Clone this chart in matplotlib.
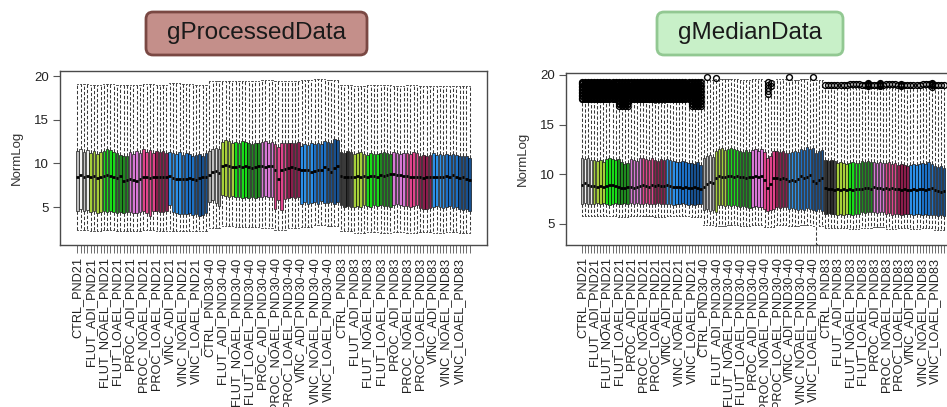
import numpy as np
import matplotlib
matplotlib.use("Agg")
import matplotlib.pyplot as plt
from matplotlib.patches import FancyBboxPatch

plt.rcParams["font.family"] = ["Liberation Sans", "DejaVu Sans"]

# ── sample layout ─────────────────────────────────────────────────────────────
TREATMENTS = ["CTRL", "FLUT_ADI", "FLUT_NOAEL", "FLUT_LOAEL", "PROC_ADI",
              "PROC_NOAEL", "PROC_LOAEL", "VINC_ADI", "VINC_NOAEL", "VINC_LOAEL"]
TIMEPOINTS = ["PND21", "PND30-40", "PND83"]
N_REP = 4
GROUP_LABELS = [f"{t}_{p}" for p in TIMEPOINTS for t in TREATMENTS]

# ── gProcessedData (per sample: q1 / median / q3, per group: whiskers) ────────
proc_q3 = [
    11.4, 11.6, 11.3, 11.5, 11.2, 11.4, 11.1, 11.3, 11.4, 11.6, 11.5, 11.3,
    11.2, 11.0, 10.8, 10.9, 11.3, 11.1, 11.4, 11.2, 11.6, 11.3, 11.5, 11.2,
    11.4, 11.3, 11.4, 11.2, 11.3, 11.2, 11.1, 11.3, 11.0, 11.2, 11.1, 10.9,
    11.0, 11.1, 10.9, 11.2,
    11.4, 11.7, 11.8, 11.6, 12.5, 12.7, 12.6, 12.4, 12.5, 12.4, 12.6, 12.5,
    12.3, 12.2, 12.4, 12.3, 12.5, 12.6, 12.4, 12.5, 12.2, 11.9, 12.3, 12.3,
    12.4, 12.4, 12.3, 12.5, 12.0, 12.2, 12.1, 12.3, 12.2, 12.4, 12.2, 12.6,
    12.5, 12.3, 12.8, 12.7,
    11.3, 11.2, 11.4, 11.3, 11.1, 11.2, 11.3, 11.1, 11.0, 11.2, 11.1, 11.1,
    11.2, 11.3, 11.2, 11.1, 11.3, 11.2, 11.1, 11.2, 11.2, 11.1, 11.3, 11.2,
    10.9, 11.0, 10.9, 11.0, 11.2, 11.0, 11.1, 11.0, 11.1, 11.0, 11.1, 11.0,
    10.9, 10.8, 10.8, 10.6]
proc_q1 = [
    4.5, 4.8, 4.6, 4.7, 4.4, 4.5, 4.3, 4.4, 4.5, 4.4, 4.5, 4.4,
    4.3, 4.4, 4.3, 4.4, 4.4, 4.3, 4.3, 4.4, 4.6, 4.3, 4.0, 4.5,
    4.5, 4.4, 4.4, 4.5, 5.2, 4.4, 4.3, 4.2, 4.2, 4.2, 4.3, 4.1,
    4.2, 4.0, 4.1, 4.3,
    5.6, 5.8, 5.5, 5.1, 6.4, 6.3, 6.2, 6.3, 6.1, 6.2, 6.0, 6.2,
    6.0, 6.1, 6.0, 6.2, 6.2, 6.3, 6.1, 6.2, 4.8, 5.8, 4.7, 5.9,
    6.0, 6.1, 6.0, 6.1, 5.3, 5.6, 5.4, 5.5, 5.6, 5.4, 5.7, 5.5,
    5.5, 5.6, 5.3, 5.6,
    5.2, 5.0, 5.1, 5.0, 5.0, 5.1, 5.0, 5.2, 5.1, 5.0, 5.2, 5.1,
    5.2, 5.1, 5.1, 5.0, 5.2, 5.3, 5.2, 5.1, 5.1, 5.0, 5.1, 5.2,
    4.9, 4.8, 4.8, 4.9, 5.0, 5.1, 5.0, 4.9, 5.0, 5.1, 4.9, 5.0,
    4.8, 4.7, 4.8, 4.6]
proc_med = [
    8.4, 8.7, 8.5, 8.6, 8.4, 8.6, 8.3, 8.5, 8.6, 8.7, 8.6, 8.5,
    8.3, 8.6, 8.0, 8.1, 8.2, 8.1, 8.0, 8.2, 8.4, 8.5, 8.3, 8.5,
    8.5, 8.4, 8.5, 8.4, 8.6, 8.3, 8.2, 8.2, 8.2, 8.2, 8.3, 8.2,
    8.1, 8.3, 8.5, 8.4,
    8.7, 9.0, 9.1, 8.9, 9.7, 9.8, 9.7, 9.6, 9.6, 9.7, 9.6, 9.7,
    9.6, 9.5, 9.6, 9.7, 9.7, 9.6, 9.7, 9.7, 9.2, 8.2, 9.3, 9.4,
    9.5, 9.6, 9.5, 9.4, 9.3, 9.2, 9.3, 9.0, 9.1, 9.3, 9.2, 9.6,
    9.4, 9.0, 9.5, 9.7,
    8.6, 8.5, 8.4, 8.5, 8.5, 8.6, 8.5, 8.6, 8.5, 8.6, 8.6, 8.5,
    8.7, 8.6, 8.7, 8.8, 8.8, 8.7, 8.7, 8.6, 8.6, 8.5, 8.5, 8.4,
    8.4, 8.3, 8.4, 8.4, 8.4, 8.5, 8.4, 8.5, 8.6, 8.5, 8.7, 8.4,
    8.3, 8.5, 8.2, 8.1]
proc_whishi = [19.1, 19.0, 19.1, 19.0, 19.0, 19.1, 19.0, 19.2, 19.1, 19.0,
               19.4, 19.5, 19.5, 19.5, 19.6, 19.5, 19.5, 19.6, 19.7, 19.6,
               19.0, 18.9, 19.0, 19.0, 18.9, 19.0, 18.9, 18.9, 18.9, 18.9]
proc_whislo = [2.4, 2.3, 2.4, 2.2, 2.3, 2.4, 2.3, 2.2, 2.3, 2.3,
               2.6, 2.8, 2.7, 2.7, 2.6, 2.4, 2.6, 2.7, 2.9, 2.8,
               2.2, 2.0, 2.1, 2.0, 2.1, 2.0, 2.1, 2.0, 2.1, 2.0]

# ── gMedianData ───────────────────────────────────────────────────────────────
med_q3 = [
    11.6, 11.5, 11.6, 11.4, 11.4, 11.3, 11.4, 11.2, 11.5, 11.6, 11.5, 11.4,
    11.5, 11.2, 11.0, 11.1, 11.5, 11.4, 11.3, 11.6, 11.6, 11.5, 11.4, 11.6,
    11.4, 11.3, 11.5, 11.4, 11.5, 11.4, 11.3, 11.2, 11.2, 11.3, 11.2, 11.1,
    11.1, 11.0, 11.2, 10.9,
    11.6, 11.8, 11.9, 11.7, 12.3, 12.5, 12.6, 12.4, 12.5, 12.6, 12.5, 12.4,
    12.3, 12.2, 12.4, 12.2, 12.4, 12.5, 12.3, 12.5, 12.2, 11.6, 11.8, 12.3,
    12.3, 12.2, 12.3, 12.1, 12.1, 12.2, 12.3, 12.2, 12.5, 12.4, 12.7, 12.5,
    12.6, 12.1, 12.3, 12.4,
    11.4, 11.3, 11.4, 11.3, 11.1, 11.2, 11.1, 11.0, 11.1, 11.2, 11.1, 11.1,
    11.3, 11.2, 11.3, 11.2, 11.2, 11.1, 11.2, 11.1, 11.1, 11.2, 11.0, 11.1,
    10.9, 11.0, 10.9, 10.8, 10.9, 11.0, 10.9, 11.0, 11.1, 11.0, 11.2, 11.0,
    10.8, 10.7, 10.8, 10.6]
med_q1 = [
    7.0, 7.1, 7.0, 7.0, 7.0, 7.1, 7.0, 7.1, 7.0, 6.9, 7.0, 7.1,
    7.0, 7.0, 7.1, 7.0, 7.1, 7.0, 7.1, 7.0, 7.0, 7.1, 7.0, 7.0,
    7.0, 7.1, 7.0, 7.0, 7.0, 7.0, 6.9, 7.0, 7.0, 7.1, 7.0, 6.9,
    7.0, 6.9, 7.0, 7.0,
    6.4, 6.5, 6.3, 6.4, 6.2, 6.9, 6.9, 6.8, 6.9, 6.8, 6.9, 6.8,
    6.7, 6.8, 6.7, 6.6, 6.7, 6.8, 6.7, 6.7, 6.5, 6.3, 6.4, 6.5,
    6.7, 6.6, 6.7, 6.7, 6.5, 6.6, 6.5, 6.4, 6.5, 6.4, 6.6, 6.5,
    6.4, 6.3, 6.5, 6.3,
    6.0, 6.1, 6.0, 6.0, 5.9, 6.0, 5.9, 6.0, 6.0, 5.9, 6.0, 6.0,
    6.2, 6.1, 6.2, 6.2, 6.2, 6.1, 6.2, 6.2, 6.0, 6.1, 5.9, 6.0,
    6.0, 5.9, 6.0, 6.0, 6.0, 5.9, 6.0, 6.0, 5.9, 6.0, 5.9, 5.9,
    5.9, 5.8, 5.9, 5.8]
med_med = [
    8.9, 9.1, 8.9, 8.8, 8.8, 8.7, 8.8, 8.7, 8.8, 8.9, 8.9, 8.8,
    8.7, 8.6, 8.6, 8.7, 8.7, 8.6, 8.7, 8.8, 8.9, 8.8, 8.7, 8.9,
    8.8, 8.9, 8.8, 8.8, 8.9, 8.8, 8.7, 8.7, 8.7, 8.6, 8.7, 8.6,
    8.6, 8.7, 8.6, 8.5,
    8.7, 9.0, 9.2, 9.1, 9.6, 9.8, 9.7, 9.7, 9.8, 9.8, 9.7, 9.8,
    9.7, 9.7, 9.6, 9.7, 9.7, 9.8, 9.7, 9.8, 9.4, 8.6, 9.0, 9.6,
    9.6, 9.5, 9.6, 9.5, 9.3, 9.4, 9.3, 9.5, 9.8, 9.6, 9.7, 9.9,
    9.3, 9.1, 9.4, 9.6,
    8.6, 8.5, 8.5, 8.4, 8.5, 8.4, 8.5, 8.4, 8.5, 8.4, 8.5, 8.5,
    8.5, 8.6, 8.6, 8.5, 8.7, 8.6, 8.6, 8.5, 8.6, 8.5, 8.6, 8.5,
    8.5, 8.4, 8.5, 8.4, 8.4, 8.5, 8.4, 8.5, 8.5, 8.4, 8.5, 8.6,
    8.4, 8.3, 8.2, 8.3]
med_whishi = [17.4, 17.3, 17.4, 16.8, 17.4, 17.3, 17.2, 17.3, 17.4, 16.8,
              19.5, 19.6, 19.6, 19.5, 19.6, 19.4, 19.6, 19.5, 19.6, 19.5,
              18.7, 18.7, 18.7, 18.7, 18.7, 18.7, 18.7, 18.7, 18.7, 18.7]
med_whislo = [5.8, 5.8, 5.8, 5.7, 5.8, 5.8, 5.7, 5.8, 5.8, 5.7,
              4.9, 4.8, 4.9, 4.8, 4.9, 4.7, 4.9, 4.8, 4.9, 4.8,
              4.6, 4.6, 4.5, 4.6, 4.7, 4.5, 4.6, 4.5, 4.6, 4.4]
med_whishi_extra = {61: 17.9, 62: 18.6}
med_whislo_extra = {77: 3.0}

# outliers: dense band at PND21, sparse above
blob = [17.55, 17.7, 17.85, 18.0, 18.15, 18.3, 18.45, 18.6, 18.75, 18.9,
        19.05, 19.2, 19.3]
blob_low = [16.9, 17.05, 17.2, 17.35, 17.5, 17.65, 17.8, 17.95, 18.1, 18.25,
            18.4, 18.55, 18.7, 18.85, 19.0, 19.15, 19.25]
med_fliers = [blob, blob, blob, blob_low, blob, blob, blob, blob, blob, blob_low,
              [], [], [], [], [], [], [], [], [], [],
              [19.0], [19.0], [19.05], [19.0], [19.0], [19.05], [19.0], [19.0], [19.05], [19.0]]
med_fliers_extra = {41: [19.8], 44: [19.65], 61: [18.1, 18.4, 18.7, 19.0, 19.3],
                    62: [18.9, 19.2], 68: [19.8], 76: [19.75],
                    94: [18.9, 19.1, 19.2], 98: [18.9, 19.1, 19.2],
                    105: [18.9, 19.1], 115: [18.8, 19.0, 19.2]}

# ── colours ───────────────────────────────────────────────────────────────────
CTRL_SHADES = [["#bdbdbd", "#f2f2f2", "#c4c4c4", "#ececec"],
               ["#a8a8a8", "#c0c0c0", "#e0e0e0", "#a3a3a3"],
               ["#303030", "#3a3a3a", "#2a2a2a", "#444444"]]
TREAT_COLORS = ["#a5cf3a", "#18dd18", "#1f8a1f", "#d877d4",
                "#e0448c", "#8b1d4c", "#2b8fe8", "#1c70c6", "#17508f"]


def sample_colors():
    cols = []
    for p in range(len(TIMEPOINTS)):
        cols += CTRL_SHADES[p]
        for c in TREAT_COLORS:
            cols += [c] * N_REP
    return cols


def build_stats(q1, med, q3, lo, hi, fliers=None, lo_x={}, hi_x={}, fl_x={}):
    stats = []
    for i in range(len(med)):
        g = i // N_REP
        fl = (fliers[g] if fliers else []) + fl_x.get(i, [])
        stats.append(dict(q1=q1[i], med=med[i], q3=q3[i],
                          whislo=lo_x.get(i, lo[g]), whishi=hi_x.get(i, hi[g]),
                          fliers=np.array(fl)))
    return stats


def draw_panel(ax, stats, ylim):
    n = len(stats)
    pos = np.arange(1, n + 1)
    bp = ax.bxp(stats, positions=pos, widths=0.8, capwidths=0.4,
                patch_artist=True, manage_ticks=False,
                boxprops=dict(edgecolor="black", linewidth=0.45),
                whiskerprops=dict(color="#3a3a3a", linewidth=0.75, linestyle=(0, (3.2, 1.8))),
                capprops=dict(color="#3a3a3a", linewidth=0.6),
                medianprops=dict(color="black", linewidth=2.0),
                flierprops=dict(marker="o", markersize=4.2, markerfacecolor="none",
                                markeredgecolor="black", markeredgewidth=1.0))
    for box, c in zip(bp["boxes"], sample_colors()):
        box.set_facecolor(c)
    ax.set_xlim(0.5 - 0.04 * n, n + 0.5 + 0.04 * n)
    ax.set_ylim(*ylim)
    ax.set_yticks([5, 10, 15, 20])
    ax.set_xticks(pos)
    labels = [GROUP_LABELS[i // N_REP] if i % N_REP == 0 else "" for i in range(n)]
    ax.set_xticklabels(labels, rotation=90)
    ax.tick_params(axis="x", length=6, width=0.6, color="#555555", labelsize=9.2,
                   labelcolor="#222222", pad=3)
    ax.tick_params(axis="y", length=5, width=0.8, color="#555555", labelsize=9.5,
                   labelcolor="#222222", pad=3)
    for s in ax.spines.values():
        s.set_color("#4a4a4a")
        s.set_linewidth(1.0)
    ax.set_ylabel("NormLog", fontsize=9.5, color="#333333", labelpad=8)


fig = plt.figure(figsize=(9.47, 4.07), dpi=100)

ax1 = fig.add_axes([60 / 947, 1 - 245 / 407, 427 / 947, 174 / 407])
draw_panel(ax1, build_stats(proc_q1, proc_med, proc_q3, proc_whislo, proc_whishi),
           (0.65, 20.6))

ax2 = fig.add_axes([566 / 947, 1 - 245 / 407, 394 / 947, 172 / 407])
draw_panel(ax2, build_stats(med_q1, med_med, med_q3, med_whislo, med_whishi, med_fliers,
                            med_whislo_extra, med_whishi_extra, med_fliers_extra),
           (2.88, 20.2))

# title badges (inches from the lower-left corner)
for (x0, x1), text, fc, ec in [((1.46, 3.67), "gProcessedData", "#c48f8a", "#7a4843"),
                              ((6.57, 8.43), "gMedianData", "#c8f0c8", "#92c892")]:
    badge = FancyBboxPatch((x0, 3.52), x1 - x0, 0.43,
                           boxstyle="round,pad=0,rounding_size=0.07",
                           transform=fig.dpi_scale_trans, facecolor=fc,
                           edgecolor=ec, linewidth=2)
    fig.add_artist(badge)
    fig.text((x0 + x1) / 2, 3.735, text, transform=fig.dpi_scale_trans,
             ha="center", va="center", fontsize=17.5, color="#1a1a1a")

fig.savefig("out.png", dpi=100)
